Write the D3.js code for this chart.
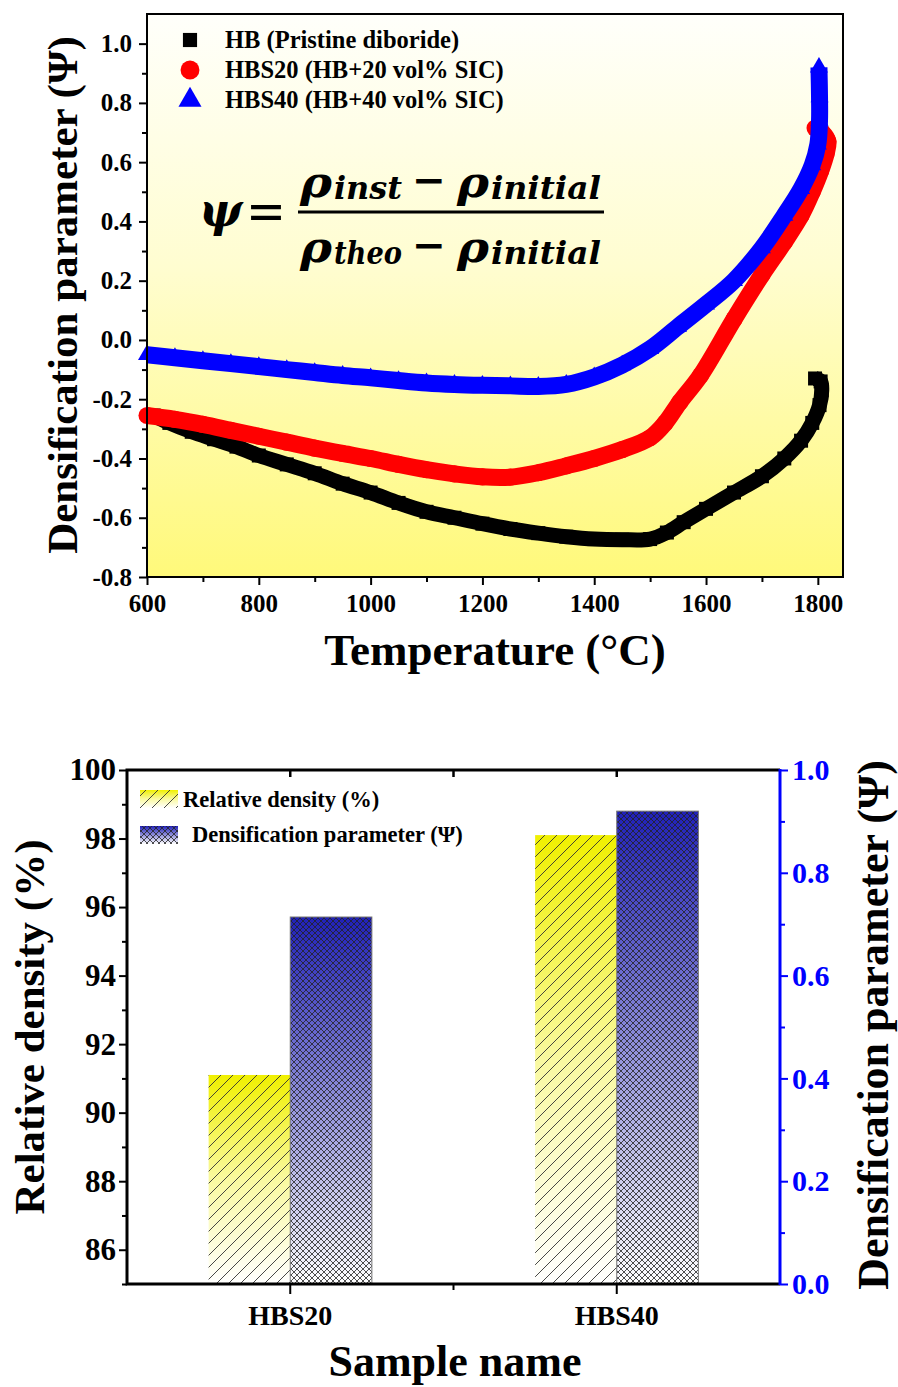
<!DOCTYPE html>
<html>
<head>
<meta charset="utf-8">
<script src="https://cdn.jsdelivr.net/npm/d3@7"></script>
<style>
  body { margin: 0; background: #fff; }
  svg { display: block; }
</style>
</head>
<body>
<svg id="fig" width="898" height="1387"></svg>
<script>
// ---------- Densification curves: temperature (°C) and Ψ ----------
const hbTemp = [612, 640, 680, 720, 760, 800, 850, 900, 950, 1000, 1050, 1100, 1150, 1200, 1250, 1300, 1350, 1400, 1450, 1500, 1530, 1560, 1600, 1650, 1700, 1740, 1770, 1790, 1803, 1807, 1805, 1795];
const hbPsi  = [-0.255, -0.28, -0.31, -0.335, -0.36, -0.39, -0.42, -0.45, -0.485, -0.515, -0.55, -0.58, -0.60, -0.62, -0.638, -0.652, -0.664, -0.672, -0.674, -0.672, -0.65, -0.615, -0.57, -0.515, -0.46, -0.40, -0.34, -0.28, -0.22, -0.17, -0.14, -0.13];

const hbs20Temp = [600, 650, 700, 750, 800, 850, 900, 950, 1000, 1050, 1100, 1150, 1200, 1250, 1300, 1350, 1400, 1450, 1500, 1527, 1553, 1590, 1650, 1700, 1740, 1770, 1790, 1805, 1815, 1818, 1808, 1795];
const hbs20Psi  = [-0.255, -0.268, -0.285, -0.305, -0.325, -0.345, -0.365, -0.383, -0.40, -0.42, -0.438, -0.452, -0.462, -0.463, -0.448, -0.425, -0.40, -0.37, -0.33, -0.28, -0.21, -0.12, 0.07, 0.22, 0.33, 0.42, 0.50, 0.57, 0.63, 0.67, 0.70, 0.715];

const hbs40Temp = [600, 650, 700, 750, 800, 850, 900, 950, 1000, 1050, 1100, 1150, 1200, 1250, 1300, 1350, 1400, 1450, 1500, 1550, 1600, 1650, 1700, 1740, 1770, 1790, 1800, 1803, 1803, 1802];
const hbs40Psi  = [-0.05, -0.06, -0.07, -0.08, -0.09, -0.10, -0.11, -0.12, -0.128, -0.137, -0.145, -0.15, -0.153, -0.155, -0.157, -0.15, -0.125, -0.085, -0.03, 0.045, 0.12, 0.20, 0.31, 0.42, 0.51, 0.59, 0.66, 0.74, 0.82, 0.92];

const seriesNames = ["HB (Pristine diboride)", "HBS20 (HB+20 vol% SIC)", "HBS40 (HB+40 vol% SIC)"];
const seriesColors = ["#000000", "#ff0000", "#0000ff"];

const tempTicks = [600, 800, 1000, 1200, 1400, 1600, 1800];
const tempMinor = [700, 900, 1100, 1300, 1500, 1700];
const psiTicks = [-0.8, -0.6, -0.4, -0.2, 0.0, 0.2, 0.4, 0.6, 0.8, 1.0];
const psiMinor = [-0.7, -0.5, -0.3, -0.1, 0.1, 0.3, 0.5, 0.7, 0.9];

// ---------- Final densification: samples, relative density (%) and Ψ ----------
const samples = ["HBS20", "HBS40"];
const relDensity = [91.1, 98.1];
const finalPsi = [0.714, 0.92];

const rdTicks = [86, 88, 90, 92, 94, 96, 98, 100];
const rdMinor = [85, 87, 89, 91, 93, 95, 97, 99];
const psiRTicks = [0.0, 0.2, 0.4, 0.6, 0.8, 1.0];
const psiRMinor = [0.1, 0.3, 0.5, 0.7, 0.9];

const SERIF = '"Liberation Serif", "Times New Roman", serif';
const svg = d3.select("#fig");
const defs = svg.append("defs");
svg.append("rect").attr("width", 898).attr("height", 1387).attr("fill", "#fff");

// ======================= Panel 1: Ψ vs temperature =======================
const P1 = { l: 147, r: 843, t: 14, b: 577 };
const x1 = d3.scaleLinear().domain([600, 1845]).range([P1.l, P1.r]);
const y1 = d3.scaleLinear().domain([-0.8, 1.1]).range([P1.b, P1.t]);

const bgGrad = defs.append("linearGradient").attr("id", "bgGrad")
  .attr("x1", 0).attr("y1", 0).attr("x2", 0).attr("y2", 1);
bgGrad.append("stop").attr("offset", 0).attr("stop-color", "#fffffb");
bgGrad.append("stop").attr("offset", 0.45).attr("stop-color", "#fffdd0");
bgGrad.append("stop").attr("offset", 1).attr("stop-color", "#fff97a");

svg.append("rect").attr("x", P1.l).attr("y", P1.t)
  .attr("width", P1.r - P1.l).attr("height", P1.b - P1.t)
  .attr("fill", "url(#bgGrad)");

const fmt1 = d => (Math.abs(d) < 1e-9 ? "0.0" : d.toFixed(1));

function styleAxis(g, size, color) {
  g.attr("font-family", SERIF).attr("font-weight", "bold").attr("font-size", size);
  g.select(".domain").remove();
  g.selectAll(".tick line").attr("stroke", color).attr("stroke-width", 2);
  g.selectAll(".tick text").attr("fill", color);
}

// left axis
svg.append("g").attr("transform", `translate(${P1.l},0)`)
  .call(d3.axisLeft(y1).tickValues(psiTicks).tickSize(8).tickPadding(7).tickFormat(fmt1))
  .call(g => styleAxis(g, 25, "#000"));
svg.append("g").attr("transform", `translate(${P1.l},0)`)
  .call(d3.axisLeft(y1).tickValues(psiMinor).tickSize(5).tickFormat(""))
  .call(g => styleAxis(g, 25, "#000"));
// bottom axis
svg.append("g").attr("transform", `translate(0,${P1.b})`)
  .call(d3.axisBottom(x1).tickValues(tempTicks).tickSize(8).tickPadding(9).tickFormat(d3.format("d")))
  .call(g => styleAxis(g, 25, "#000"));
svg.append("g").attr("transform", `translate(0,${P1.b})`)
  .call(d3.axisBottom(x1).tickValues(tempMinor).tickSize(5).tickFormat(""))
  .call(g => styleAxis(g, 25, "#000"));

// curves: thick smoothed line plus symbol markers
function drawSeries(temps, psi, color, symType, symSize, width) {
  const pts = temps.map((t, i) => [t, psi[i]]);
  const g = svg.append("g");
  g.append("path").datum(pts)
    .attr("d", d3.line().curve(d3.curveCatmullRom.alpha(0.5)).x(d => x1(d[0])).y(d => y1(d[1])))
    .attr("fill", "none").attr("stroke", color)
    .attr("stroke-width", width).attr("stroke-linejoin", "round");
  g.selectAll("path.mk").data(pts).join("path").attr("class", "mk")
    .attr("transform", d => `translate(${x1(d[0])},${y1(d[1])})`)
    .attr("d", d3.symbol(symType, symSize)())
    .attr("fill", color);
}
drawSeries(hbTemp, hbPsi, seriesColors[0], d3.symbolSquare, 196, 15);
drawSeries(hbs20Temp, hbs20Psi, seriesColors[1], d3.symbolCircle, 230, 17);
drawSeries(hbs40Temp, hbs40Psi, seriesColors[2], d3.symbolTriangle, 140, 17);

// frame
svg.append("rect").attr("x", P1.l).attr("y", P1.t)
  .attr("width", P1.r - P1.l).attr("height", P1.b - P1.t)
  .attr("fill", "none").attr("stroke", "#000").attr("stroke-width", 2);

// legend
const legSyms = [d3.symbolSquare, d3.symbolCircle, d3.symbolTriangle];
const legSizes = [200, 280, 230];
seriesNames.forEach((name, i) => {
  const cy = 40 + i * 30;
  svg.append("path").attr("transform", `translate(190,${cy})`)
    .attr("d", d3.symbol(legSyms[i], legSizes[i])()).attr("fill", seriesColors[i]);
  svg.append("text").attr("x", 225).attr("y", cy + 8)
    .attr("font-family", SERIF).attr("font-weight", "bold").attr("font-size", 24.5)
    .text(name);
});

// axis titles
svg.append("text").attr("transform", "translate(77,295) rotate(-90)")
  .attr("text-anchor", "middle").attr("font-family", SERIF).attr("font-weight", "bold")
  .attr("font-size", 43).text("Densification parameter (Ψ)");
svg.append("text").attr("x", 495).attr("y", 665)
  .attr("text-anchor", "middle").attr("font-family", SERIF).attr("font-weight", "bold")
  .attr("font-size", 45).text("Temperature (°C)");

// equation
const eq = svg.append("g").attr("font-family", '"DejaVu Serif", serif')
  .attr("font-weight", "bold").attr("font-style", "italic").attr("fill", "#000");
eq.append("text").attr("x", 199).attr("y", 226).attr("font-size", 46).text("ψ");
eq.append("text").attr("x", 246).attr("y", 230).attr("font-size", 54)
  .attr("font-style", "normal").attr("font-weight", "normal")
  .attr("textLength", 40).attr("lengthAdjust", "spacingAndGlyphs").text("=");
eq.append("line").attr("x1", 298).attr("x2", 604).attr("y1", 212).attr("y2", 212)
  .attr("stroke", "#000").attr("stroke-width", 3);
function eqRow(base, sub) {
  eq.append("text").attr("x", 300).attr("y", base).attr("font-size", 42)
    .attr("textLength", 32).attr("lengthAdjust", "spacingAndGlyphs").text("ρ");
  eq.append("text").attr("x", 334).attr("y", base + 2).attr("font-size", 32)
    .attr("textLength", 68).attr("lengthAdjust", "spacingAndGlyphs").text(sub);
  eq.append("text").attr("x", 412).attr("y", base - 3).attr("font-size", 40)
    .attr("font-style", "normal").attr("textLength", 34).attr("lengthAdjust", "spacingAndGlyphs").text("−");
  eq.append("text").attr("x", 457).attr("y", base).attr("font-size", 42)
    .attr("textLength", 32).attr("lengthAdjust", "spacingAndGlyphs").text("ρ");
  eq.append("text").attr("x", 491).attr("y", base + 2).attr("font-size", 32)
    .attr("textLength", 110).attr("lengthAdjust", "spacingAndGlyphs").text("initial");
}
eqRow(197, "inst");
eqRow(262, "theo");

// ======================= Panel 2: final density bars =======================
const P2 = { l: 127, r: 780, t: 770, b: 1284 };
const x2 = d3.scaleBand().domain(samples).range([P2.l, P2.r]);
const yL = d3.scaleLinear().domain([85, 100]).range([P2.b, P2.t]);
const yR = d3.scaleLinear().domain([0, 1]).range([P2.b, P2.t]);
const barW = x2.bandwidth() * 0.25;

const yelGrad = defs.append("linearGradient").attr("id", "yelGrad")
  .attr("x1", 0).attr("y1", 0).attr("x2", 0).attr("y2", 1);
yelGrad.append("stop").attr("offset", 0).attr("stop-color", "#f0f000");
yelGrad.append("stop").attr("offset", 0.5).attr("stop-color", "#f9f9a0");
yelGrad.append("stop").attr("offset", 1).attr("stop-color", "#ffffff");
const bluGrad = defs.append("linearGradient").attr("id", "bluGrad")
  .attr("x1", 0).attr("y1", 0).attr("x2", 0).attr("y2", 1);
bluGrad.append("stop").attr("offset", 0).attr("stop-color", "#2020b8");
bluGrad.append("stop").attr("offset", 0.5).attr("stop-color", "#9090dc");
bluGrad.append("stop").attr("offset", 1).attr("stop-color", "#ffffff");

const hatch = defs.append("pattern").attr("id", "hatch")
  .attr("patternUnits", "userSpaceOnUse").attr("width", 12).attr("height", 12);
hatch.append("path").attr("d", "M-2,2 L2,-2 M0,12 L12,0 M10,14 L14,10")
  .attr("stroke", "#333").attr("stroke-width", 0.9);
const xhatch = defs.append("pattern").attr("id", "xhatch")
  .attr("patternUnits", "userSpaceOnUse").attr("width", 6).attr("height", 6);
xhatch.append("path").attr("d", "M0,0 L6,6 M6,0 L0,6")
  .attr("stroke", "#222").attr("stroke-width", 0.8);

const cx = s => x2(s) + x2.bandwidth() / 2;

// relative density bars (left axis)
const rdBars = svg.append("g").selectAll("g").data(samples).join("g");
rdBars.append("rect").attr("x", s => cx(s) - barW).attr("width", barW)
  .attr("y", (s, i) => yL(relDensity[i])).attr("height", (s, i) => P2.b - yL(relDensity[i]))
  .attr("fill", "url(#yelGrad)");
rdBars.append("rect").attr("x", s => cx(s) - barW).attr("width", barW)
  .attr("y", (s, i) => yL(relDensity[i])).attr("height", (s, i) => P2.b - yL(relDensity[i]))
  .attr("fill", "url(#hatch)");

// densification parameter bars (right axis)
const psBars = svg.append("g").selectAll("g").data(samples).join("g");
psBars.append("rect").attr("x", s => cx(s)).attr("width", barW)
  .attr("y", (s, i) => yR(finalPsi[i])).attr("height", (s, i) => P2.b - yR(finalPsi[i]))
  .attr("fill", "url(#bluGrad)");
psBars.append("rect").attr("x", s => cx(s)).attr("width", barW)
  .attr("y", (s, i) => yR(finalPsi[i])).attr("height", (s, i) => P2.b - yR(finalPsi[i]))
  .attr("fill", "url(#xhatch)").attr("stroke", "#777").attr("stroke-width", 1);

// left axis
svg.append("g").attr("transform", `translate(${P2.l},0)`)
  .call(d3.axisLeft(yL).tickValues(rdTicks).tickSize(8).tickPadding(3).tickFormat(d3.format("d")))
  .call(g => styleAxis(g, 31, "#000"));
svg.append("g").attr("transform", `translate(${P2.l},0)`)
  .call(d3.axisLeft(yL).tickValues(rdMinor).tickSize(5).tickFormat(""))
  .call(g => styleAxis(g, 31, "#000"));
// right axis
svg.append("g").attr("transform", `translate(${P2.r},0)`)
  .call(d3.axisRight(yR).tickValues(psiRTicks).tickSize(8).tickPadding(4).tickFormat(d => d.toFixed(1)))
  .call(g => styleAxis(g, 30, "#0000ff"));
svg.append("g").attr("transform", `translate(${P2.r},0)`)
  .call(d3.axisRight(yR).tickValues(psiRMinor).tickSize(5).tickFormat(""))
  .call(g => styleAxis(g, 30, "#0000ff"));
// bottom axis
svg.append("g").attr("transform", `translate(0,${P2.b})`)
  .call(d3.axisBottom(x2).tickSize(10).tickPadding(11))
  .call(g => styleAxis(g, 28, "#000"));
svg.append("line").attr("x1", (cx(samples[0]) + cx(samples[1])) / 2)
  .attr("x2", (cx(samples[0]) + cx(samples[1])) / 2)
  .attr("y1", P2.b).attr("y2", P2.b + 6).attr("stroke", "#000").attr("stroke-width", 2);
// top mirror ticks
[cx(samples[0]), (cx(samples[0]) + cx(samples[1])) / 2, cx(samples[1])].forEach(px => {
  svg.append("line").attr("x1", px).attr("x2", px).attr("y1", P2.t).attr("y2", P2.t + 7)
    .attr("stroke", "#000").attr("stroke-width", 2.5);
});
// frame lines
svg.append("path").attr("d", `M${P2.r},${P2.t} H${P2.l} V${P2.b} H${P2.r}`)
  .attr("fill", "none").attr("stroke", "#000").attr("stroke-width", 3);
svg.append("line").attr("x1", P2.r).attr("x2", P2.r).attr("y1", P2.t - 1).attr("y2", P2.b + 1)
  .attr("stroke", "#0000ff").attr("stroke-width", 3);

// legend
const lg = svg.append("g");
lg.append("rect").attr("x", 140).attr("y", 790).attr("width", 38).attr("height", 18).attr("fill", "url(#yelGrad)");
lg.append("rect").attr("x", 140).attr("y", 790).attr("width", 38).attr("height", 18).attr("fill", "url(#hatch)");
lg.append("rect").attr("x", 140).attr("y", 826).attr("width", 38).attr("height", 18).attr("fill", "url(#bluGrad)");
lg.append("rect").attr("x", 140).attr("y", 826).attr("width", 38).attr("height", 18).attr("fill", "url(#xhatch)");
lg.append("text").attr("x", 183).attr("y", 807).attr("font-family", SERIF).attr("font-weight", "bold")
  .attr("font-size", 22.5).text("Relative density (%)");
lg.append("text").attr("x", 192).attr("y", 842).attr("font-family", SERIF).attr("font-weight", "bold")
  .attr("font-size", 22.5).text("Densification parameter (Ψ)");

// axis titles
svg.append("text").attr("transform", "translate(44,1027) rotate(-90)")
  .attr("text-anchor", "middle").attr("font-family", SERIF).attr("font-weight", "bold")
  .attr("font-size", 43).text("Relative density (%)");
svg.append("text").attr("transform", "translate(888,1025) rotate(-90)")
  .attr("text-anchor", "middle").attr("font-family", SERIF).attr("font-weight", "bold")
  .attr("font-size", 44).text("Densification parameter (Ψ)");
svg.append("text").attr("x", 455).attr("y", 1376)
  .attr("text-anchor", "middle").attr("font-family", SERIF).attr("font-weight", "bold")
  .attr("font-size", 44).text("Sample name");
</script>
</body>
</html>
